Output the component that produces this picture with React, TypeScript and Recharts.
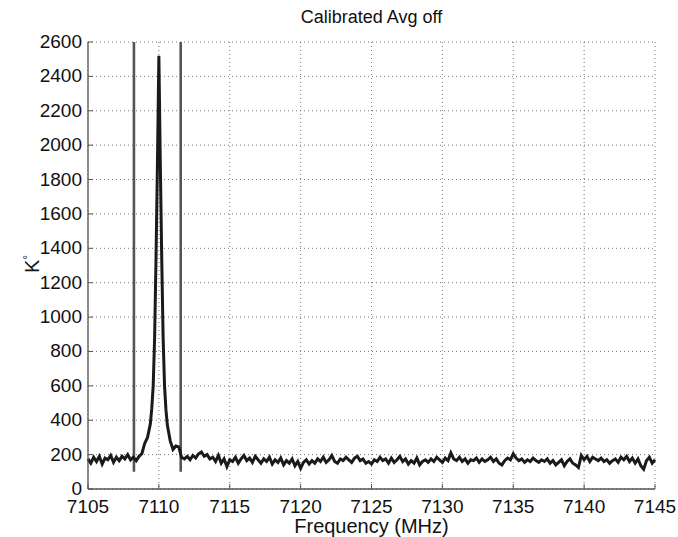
import React from "react";
import { LineChart, Line, XAxis, YAxis, CartesianGrid, ReferenceLine } from "recharts";

// axis ticks
const freqTicks = [7105, 7110, 7115, 7120, 7125, 7130, 7135, 7140, 7145];
const tempTicks = [0, 200, 400, 600, 800, 1000, 1200, 1400, 1600, 1800, 2000, 2200, 2400, 2600];

// baseline left of the line, sampled every 0.2 MHz from 7105.0
const leftStart = 7105;
const leftBase = [
  175, 150, 185, 160, 190, 145, 180, 170, 195, 155,
  185, 165, 190, 175, 200, 170, 185, 165, 190, 205,
];

// the emission line itself
const peakFreqs = [
  7109.0, 7109.2, 7109.4, 7109.5, 7109.6, 7109.7, 7109.8, 7109.9, 7110.0,
  7110.1, 7110.2, 7110.3, 7110.4, 7110.5, 7110.6, 7110.8, 7111.0, 7111.2, 7111.4,
];
const peakTemps = [
  265, 300, 380, 470, 600, 880, 1350, 1900, 2520,
  1900, 1350, 880, 600, 460, 370, 280, 230, 250, 245,
];

// baseline right of the line, every 0.2 MHz from 7111.6
const rightStart = 7111.6;
const rightBase = [
  185, 175, 190, 170, 195, 180, 205, 215, 190, 200,
  175, 185, 160, 195, 150, 175, 130, 170,
  160, 185, 150, 175, 195, 165, 180, 155, 190, 170,
  150, 175, 160, 185, 145, 170, 155, 180, 140, 165,
  150, 175, 135, 160, 120, 155, 170, 145, 165, 150,
  175, 160, 185, 155, 170, 195, 160, 150, 175, 165,
  185, 170, 155, 180, 190, 165, 175, 150, 160, 145,
  170, 160, 185, 165, 175, 150, 180, 155, 170, 190,
  160, 175, 145, 165, 150, 180, 140, 160, 170, 155,
  175, 160, 185, 170, 155, 180, 165, 210, 175, 165,
  185, 160, 175, 150, 170, 165, 180, 155, 175, 160,
  170, 185, 160, 175, 150, 140, 165, 180, 170, 205,
  180, 165, 175, 155, 170, 160, 180, 165, 155, 170,
  160, 175, 150, 165, 140, 155, 170, 135, 160, 175,
  150, 140, 125, 195, 170, 190, 160, 185, 175, 165,
  180, 160, 170, 150, 165, 175, 155, 185, 170, 190,
  160, 180, 150, 175, 135, 115, 165, 185, 150, 170,
];

// channel window markers
const markerFreqs = [7108.24, 7111.54];
const markerLow = 100;
const markerHigh = 2600;

const step = 0.2;
const data = [
  ...leftBase.map((t, i) => ({ f: +(leftStart + i * step).toFixed(2), t })),
  ...peakFreqs.map((f, i) => ({ f, t: peakTemps[i] })),
  ...rightBase.map((t, i) => ({ f: +(rightStart + i * step).toFixed(2), t })),
];

const FONT = '"Liberation Sans", Arial, Helvetica, sans-serif';
const AXIS = "#555";
const IN_TICK = 5;

function YTick(props: any) {
  const { x, y, payload } = props;
  return (
    <g>
      <line x1={x + 6} x2={x + 6 + IN_TICK} y1={y} y2={y} stroke={AXIS} strokeWidth={1} />
      <text x={x} y={y} dy={6} textAnchor="end" fontSize={19} fontFamily={FONT} fill="#111">
        {payload.value}
      </text>
    </g>
  );
}

function XTick(props: any) {
  const { x, y, payload } = props;
  return (
    <g>
      <line x1={x} x2={x} y1={y - 10} y2={y - 10 - IN_TICK} stroke={AXIS} strokeWidth={1} />
      <text x={x} y={y} dy={14} textAnchor="middle" fontSize={19} fontFamily={FONT} fill="#111">
        {payload.value}
      </text>
    </g>
  );
}

export default function App() {
  return (
    <div style={{ position: "absolute", left: 0, top: 0, width: 678, height: 537, background: "#fff", fontFamily: FONT }}>
      <div style={{ position: "absolute", left: 88, width: 567, top: 6, textAlign: "center", fontSize: 18, lineHeight: "22px", color: "#111" }}>
        Calibrated Avg off
      </div>
      <LineChart width={678} height={537} data={data} margin={{ top: 42, right: 23, bottom: 0, left: 0 }}>
        <CartesianGrid strokeDasharray="1 3" stroke="#777" />
        <XAxis
          dataKey="f"
          type="number"
          domain={[7105, 7145]}
          ticks={freqTicks}
          height={48}
          tickSize={6}
          tickMargin={4}
          tickLine={false}
          axisLine={{ stroke: AXIS, strokeWidth: 1.3 }}
          tick={<XTick />}
          interval={0}
        />
        <XAxis
          xAxisId="top"
          orientation="top"
          type="number"
          domain={[7105, 7145]}
          ticks={freqTicks}
          height={0}
          mirror
          tick={false}
          tickSize={IN_TICK}
          tickLine={{ stroke: AXIS }}
          axisLine={{ stroke: AXIS, strokeWidth: 1.3 }}
          allowDataOverflow
        />
        <YAxis
          type="number"
          domain={[0, 2600]}
          ticks={tempTicks}
          width={88}
          tickSize={4}
          tickMargin={2}
          tickLine={false}
          axisLine={{ stroke: AXIS, strokeWidth: 1.3 }}
          tick={<YTick />}
          interval={0}
        />
        <YAxis
          yAxisId="right"
          orientation="right"
          type="number"
          domain={[0, 2600]}
          ticks={tempTicks}
          width={0}
          mirror
          tick={false}
          tickSize={IN_TICK}
          tickLine={{ stroke: AXIS }}
          axisLine={{ stroke: AXIS, strokeWidth: 1.3 }}
          allowDataOverflow
        />
        {markerFreqs.map((f) => (
          <ReferenceLine
            key={f}
            segment={[{ x: f, y: markerLow }, { x: f, y: markerHigh }]}
            stroke="#555"
            strokeWidth={2.6}
          />
        ))}
        <Line
          type="linear"
          dataKey="t"
          stroke="#1a1a1a"
          strokeWidth={3}
          dot={false}
          isAnimationActive={false}
        />
      </LineChart>
      <div style={{ position: "absolute", left: 88, width: 567, top: 515, textAlign: "center", fontSize: 20, lineHeight: "22px", color: "#111" }}>
        Frequency (MHz)
      </div>
      <div
        style={{
          position: "absolute",
          left: 30,
          top: 264,
          transform: "translate(-50%, -50%) rotate(-90deg)",
          fontSize: 20,
          lineHeight: "22px",
          color: "#111",
          whiteSpace: "nowrap",
        }}
      >
        K<sup style={{ fontSize: 12 }}>°</sup>
      </div>
    </div>
  );
}
